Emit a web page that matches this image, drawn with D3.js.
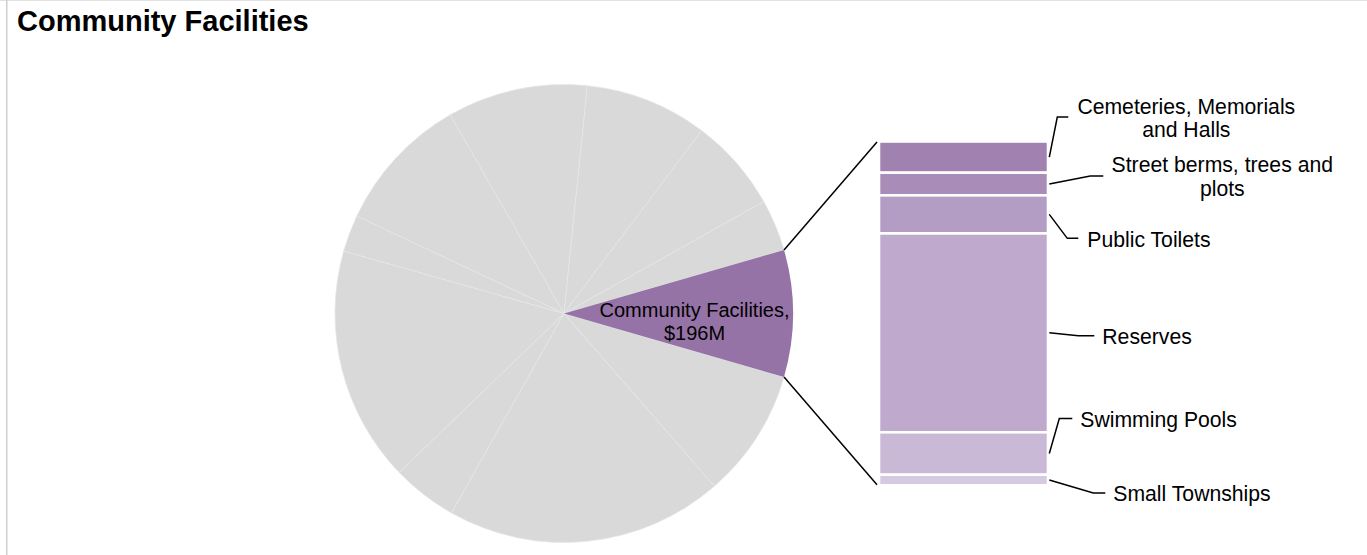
<!DOCTYPE html>
<html>
<head>
<meta charset="utf-8">
<script src="https://cdn.jsdelivr.net/npm/d3@7"></script>
<style>
  html, body { margin: 0; padding: 0; background: #fff; }
  svg { display: block; font-family: "Liberation Sans", Arial, sans-serif; }
</style>
</head>
<body>
<svg id="chart" width="1367" height="555"></svg>
<script>
// Highlighted category in the main pie ($M)
const highlightName = "Community Facilities";
const highlightValue = 196;

// Remaining asset categories, clockwise after the highlighted slice ($M)
const otherValues = [200, 429, 101, 364, 57, 213, 217, 189, 145, 80];

// Breakdown of the highlighted category shown in the stacked bar ($M)
const subCategories = [
  "Cemeteries, Memorials and Halls",
  "Street berms, trees and plots",
  "Public Toilets",
  "Reserves",
  "Swimming Pools",
  "Small Townships"
];
const subValues = [17.8, 12.9, 21.7, 113.4, 24.2, 6.0];

// Label text lines for each bar segment
const subLabelLines = [
  ["Cemeteries, Memorials", "and Halls"],
  ["Street berms, trees and", "plots"],
  ["Public Toilets"],
  ["Reserves"],
  ["Swimming Pools"],
  ["Small Townships"]
];

// ---- layout / styles ----
const W = 1367, H = 555;
const pieCx = 564, pieCy = 313.5, pieR = 229;
const barX0 = 879, barX1 = 1048, barTop = 141.5, barBottom = 485.25;
const greyFill = "#d9d9d9";
const highlightFill = "#9673a6";
const segFills = ["#a081b0", "#a98cb8", "#b39dc4", "#bfaacd", "#c9b8d6", "#d6c9e2"];

// Leader geometry, relative to (bar right edge, segment middle):
// [elbow dx, elbow dy, end dx, text x dx, text anchor, first line dy]
const labelLayout = [
  [8, -40, 19, 137, "middle", -51],
  [41, -8, 54, 173, "middle", -19],
  [18, 24, 29, 38, "start", 25],
  [29, 3, 45, 53, "start", 4],
  [10, -35, 23, 31, "start", -33.5],
  [44, 13, 56, 64, "start", 13.3]
];
const lineGap = 23.5;
const labelFont = 21.2;

const svg = d3.select("#chart");

// chart area border (top and left edges)
svg.append("line").attr("x1", 0).attr("x2", W).attr("y1", 0.5).attr("y2", 0.5)
  .attr("stroke", "#e2e2e2").attr("stroke-width", 1);
svg.append("line").attr("x1", 6.75).attr("x2", 6.75).attr("y1", 0).attr("y2", H)
  .attr("stroke", "#cfcfcf").attr("stroke-width", 1.5);

// title
svg.append("text")
  .attr("x", 17).attr("y", 31)
  .attr("font-size", 29).attr("font-weight", "bold").attr("fill", "#000")
  .text("Community Facilities");

// ---- main pie ----
const pieData = [{ name: highlightName, value: highlightValue, highlight: true }]
  .concat(otherValues.map((v, i) => ({ name: "other" + i, value: v, highlight: false })));
const total = d3.sum(pieData, d => d.value);
const highlightSpan = highlightValue / total * 2 * Math.PI;
const startA = Math.PI / 2 - highlightSpan / 2;

const pie = d3.pie().sort(null).value(d => d.value)
  .startAngle(startA).endAngle(startA + 2 * Math.PI);
const arcs = pie(pieData);
const arc = d3.arc().innerRadius(0).outerRadius(pieR);

const pieG = svg.append("g").attr("transform", `translate(${pieCx},${pieCy})`);
pieG.selectAll("path.grey")
  .data(arcs.filter(d => !d.data.highlight))
  .join("path")
  .attr("class", "grey")
  .attr("d", arc)
  .attr("fill", greyFill)
  .attr("stroke", "#e6e6e6")
  .attr("stroke-width", 0.7);
const hl = arcs.find(d => d.data.highlight);
pieG.append("path").attr("d", arc(hl)).attr("fill", highlightFill);

// label inside highlighted slice
const labelArc = d3.arc().innerRadius(pieR * 0.57).outerRadius(pieR * 0.57);
const [lx, ly] = labelArc.centroid(hl);
const pl = pieG.append("text")
  .attr("text-anchor", "middle")
  .attr("font-size", 20).attr("fill", "#000");
pl.append("tspan").attr("x", lx).attr("y", ly - 3.5).attr("dy", "0.35em")
  .text(highlightName + ",");
pl.append("tspan").attr("x", lx).attr("y", ly + 19.8).attr("dy", "0.35em")
  .text("$" + d3.format(",.0f")(highlightValue) + "M");

// ---- stacked bar of the breakdown ----
const y = d3.scaleLinear().domain([0, d3.sum(subValues)]).range([barTop, barBottom]);
const cum = d3.cumsum(subValues);
const segs = subValues.map((v, i) => ({
  name: subCategories[i], value: v, y0: cum[i] - v, y1: cum[i], i
}));

svg.append("g").selectAll("rect")
  .data(segs)
  .join("rect")
  .attr("x", barX0)
  .attr("width", barX1 - barX0)
  .attr("y", d => y(d.y0))
  .attr("height", d => y(d.y1) - y(d.y0))
  .attr("fill", d => segFills[d.i])
  .attr("stroke", "#fff")
  .attr("stroke-width", 2.6);

// connector lines from the slice edges to the bar corners
const edgePoint = a => [pieCx + pieR * Math.sin(a), pieCy - pieR * Math.cos(a)];
const [ux, uy] = edgePoint(hl.startAngle);
const [dx2, dy2] = edgePoint(hl.endAngle);
svg.append("line").attr("x1", ux).attr("y1", uy).attr("x2", barX0 - 2).attr("y2", y(0) + 0.5)
  .attr("stroke", "#000").attr("stroke-width", 1.5);
svg.append("line").attr("x1", dx2).attr("y1", dy2).attr("x2", barX0 - 2).attr("y2", y(d3.sum(subValues)) - 0.5)
  .attr("stroke", "#000").attr("stroke-width", 1.5);

// data labels with leader lines
const labG = svg.append("g");
segs.forEach(s => {
  const [ex, ey, tx, txt, anchor, ty] = labelLayout[s.i];
  const sx = barX1 + 1.3;
  const sy = (y(s.y0) + y(s.y1)) / 2;
  labG.append("polyline")
    .attr("points", [[sx, sy], [sx + ex, sy + ey], [sx + tx, sy + ey]].map(p => p.join(",")).join(" "))
    .attr("fill", "none").attr("stroke", "#000").attr("stroke-width", 1.5);
  const t = labG.append("text")
    .attr("text-anchor", anchor)
    .attr("font-size", labelFont).attr("fill", "#000");
  subLabelLines[s.i].forEach((line, k) => {
    t.append("tspan")
      .attr("x", sx + txt)
      .attr("y", sy + ty + k * lineGap)
      .attr("dy", "0.35em")
      .text(line);
  });
});
</script>
</body>
</html>
